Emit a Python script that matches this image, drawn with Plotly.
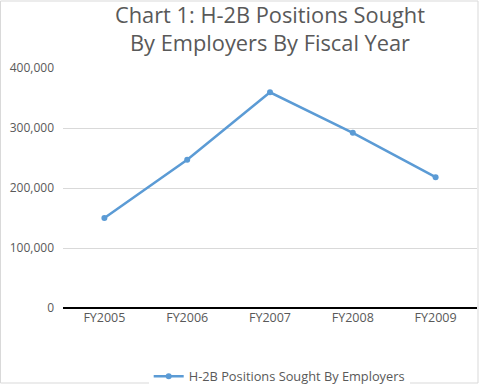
import plotly.graph_objects as go

years = ["FY2005", "FY2006", "FY2007", "FY2008", "FY2009"]
positions = [150000, 247000, 359500, 292000, 218000]
series_name = "H-2B Positions Sought By Employers"
y_ticks = [0, 100000, 200000, 300000, 400000]
y_tick_labels = ["0", "100,000", "200,000", "300,000", "400,000"]

fig = go.Figure()
fig.add_trace(go.Scatter(
    x=years, y=positions, name=series_name, mode="lines+markers",
    line=dict(color="#5B9BD5", width=2.5),
    marker=dict(color="#5B9BD5", size=6),
    showlegend=True,
))

fig.update_layout(
    width=479, height=384,
    margin=dict(l=63, r=2, t=68, b=76, autoexpand=False),
    paper_bgcolor="white", plot_bgcolor="white",
    font=dict(family="Open Sans", color="#595959", size=12),
    title=dict(
        text="Chart 1: H-2B Positions Sought<br>By Employers By Fiscal Year",
        x=0.5, xanchor="center", xref="paper",
        y=0.941, yanchor="top", yref="container",
        font=dict(size=21.8, color="#595959"),
    ),
    showlegend=True,
    legend=dict(
        orientation="h", x=0.207, xanchor="left",
        y=0.020, yanchor="middle", yref="container",
        font=dict(size=12.8, color="#595959"),
        itemwidth=30,
    ),
    xaxis=dict(
        range=[-0.5, 4.5], automargin=False,
        showgrid=False, showline=False, ticks="", zeroline=False,
        tickfont=dict(size=12.5, color="#595959"),
    ),
    yaxis=dict(
        range=[0, 400000], tickvals=y_ticks, ticktext=y_tick_labels,
        automargin=False,
        showgrid=True, gridcolor="#D9D9D9", gridwidth=1,
        zeroline=True, zerolinecolor="#000000", zerolinewidth=1.5,
        showline=False, ticks="", ticklabelstandoff=8,
        tickfont=dict(size=12, color="#595959"),
    ),
)
fig.add_shape(type="rect", xref="paper", yref="paper",
              x0=-62.5/414, x1=1 + 1/414, y0=-75/240, y1=1 + 67/240,
              line=dict(color="#D9D9D9", width=1), layer="below")

fig.write_html("out.html", config={"displayModeBar": False},
               post_script="document.body.style.margin='0';")
